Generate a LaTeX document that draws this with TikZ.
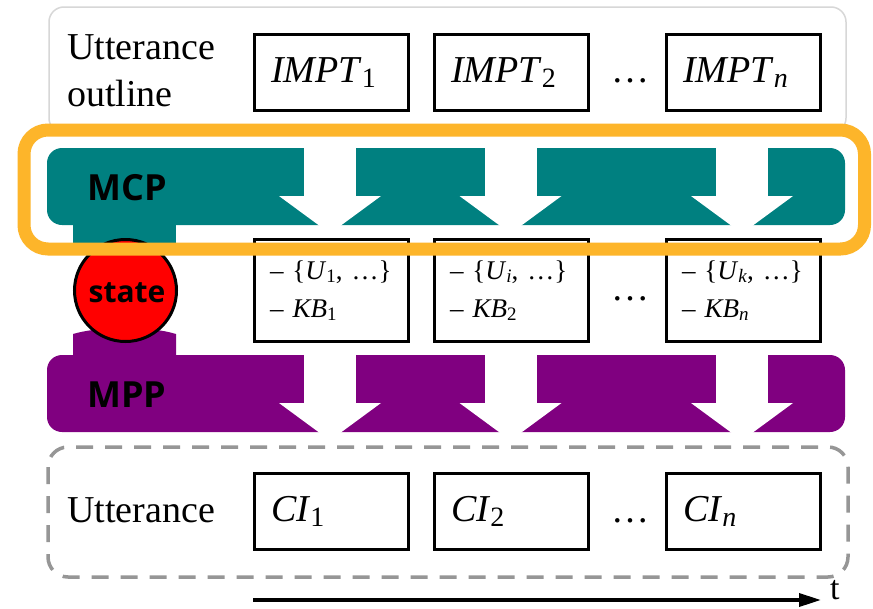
\documentclass[tikz,border=0pt]{standalone}
\usepackage{fontspec}
\setmainfont{Liberation Serif}
\newfontfamily\lblfont{Open Sans}
\usetikzlibrary{arrows.meta}
\definecolor{tealc}{RGB}{0,128,128}
\definecolor{purp}{RGB}{128,0,128}
\definecolor{orng}{RGB}{253,181,42}
\definecolor{lgray}{RGB}{215,215,215}
\definecolor{dgray}{RGB}{150,150,150}
\newcommand\lsb[1]{\raisebox{-5pt}{\fontsize{28}{28}\selectfont #1}}
\newcommand\ssb[1]{\raisebox{-3.5pt}{\fontsize{19}{19}\selectfont #1}}
\tikzset{
  bigtxt/.style={font=\fontsize{38}{47}\selectfont},
  box/.style={draw,line width=3pt,minimum width=154pt,minimum height=76pt,
    text width=121pt,inner xsep=16.5pt,align=left,bigtxt},
  kbbox/.style={draw,line width=3pt,minimum width=154pt,minimum height=102pt,
    text width=123pt,inner xsep=15.5pt,align=left,font=\fontsize{27}{38}\selectfont},
  lbl/.style={font=\lblfont\bfseries\fontsize{36}{36}\selectfont,inner sep=0pt},
  band/.style={rounded corners=15pt},
}
\newcommand\cuts[1]{%
  \foreach \cx in {330,510.5,742} {
    \fill[white] (\cx-26,#1-1) rectangle (\cx+26,#1+48.5);
    \fill[white] (\cx-51,#1+48) -- (\cx+51,#1+48) -- (\cx+9.5,#1+78.5) -- (\cx-9.5,#1+78.5) -- cycle;
  }}
\begin{document}
\begin{tikzpicture}[x=1pt,y=-1pt]
\useasboundingbox (0,0) rectangle (873,608);
\fill[white] (0,0) rectangle (873,608);

% top utterance outline frame
\draw[lgray,line width=1.5pt,rounded corners=15pt] (49,7) rectangle (846,133);
\node[anchor=west,align=left,bigtxt,inner sep=0pt] (uo) at (67,71) {Utterance\\outline};
\node[box] (i1) at (331.5,72.5) {\textit{IMPT}\lsb{1}};
\node[box] (i2) at (511.5,72.5) {\textit{IMPT}\lsb{2}};
\node[box] (i3) at (743.5,72.5) {\textit{IMPT}\lsb{\textit{n}}};
\node[bigtxt,anchor=base] (d1) at (630.5,82) {…};

% middle KB boxes
\node[kbbox] (k1) at (331.5,290.5) {– \{\textit{U}\ssb{1}, …\}\\– \textit{KB}\ssb{1}};
\node[kbbox] (k2) at (511.5,290.5) {– \{\textit{U}\ssb{\textit{i}}, …\}\\– \textit{KB}\ssb{2}};
\node[kbbox] (k3) at (743.5,290.5) {– \{\textit{U}\ssb{\textit{k}}, …\}\\– \textit{KB}\ssb{\textit{n}}};
\node[bigtxt,anchor=base] (d2) at (630.5,300) {…};

% stubs and state
\fill[tealc] (73,215) rectangle (176,248);
\fill[purp] (73,334) .. controls (100,326) and (150,326) .. (176,334) -- (176,362) -- (73,362) -- cycle;
\node[circle,draw=black,fill=red,line width=3pt,minimum size=102pt,inner sep=0pt] (st) at (125.5,290.5) {};
\node[lbl,font=\lblfont\bfseries\fontsize{30}{30}\selectfont,anchor=base] (stl) at (127,302) {state};

% MCP band
\fill[tealc,band] (47,148) rectangle (845,225);
\cuts{148}
\node[lbl,anchor=base west] (mcp) at (87,200) {MCP};

% MPP band
\fill[purp,band] (47,355) rectangle (845,432);
\cuts{355}
\node[lbl,anchor=base west] (mpp) at (87,407) {MPP};

% orange highlight
\draw[orng,line width=13pt,rounded corners=24pt] (24,130) rectangle (864.5,249);

% bottom utterance frame
\draw[dgray,line width=3.5pt,dash pattern=on 17pt off 12pt,rounded corners=20pt] (48,447) rectangle (848,577);
\node[anchor=base west,bigtxt,inner sep=0pt] (ut) at (67,522) {Utterance};
\node[box] (c1) at (331.5,511) {\textit{CI}\lsb{1}};
\node[box] (c2) at (511.5,511) {\textit{CI}\lsb{2}};
\node[box] (c3) at (743.5,511) {\textit{CI}\lsb{\textit{n}}};
\node[bigtxt,anchor=base] (d3) at (630.5,522) {…};

% time axis
\coordinate (ta) at (253,600);
\coordinate (tb) at (821,600);
\draw[line width=3.5pt,-{Triangle[length=22pt,width=13pt]}] (ta) -- (tb);
\node[font=\fontsize{34}{36}\selectfont,anchor=base west,inner sep=0pt] (tl) at (830,599) {t};
\end{tikzpicture}
\end{document}
